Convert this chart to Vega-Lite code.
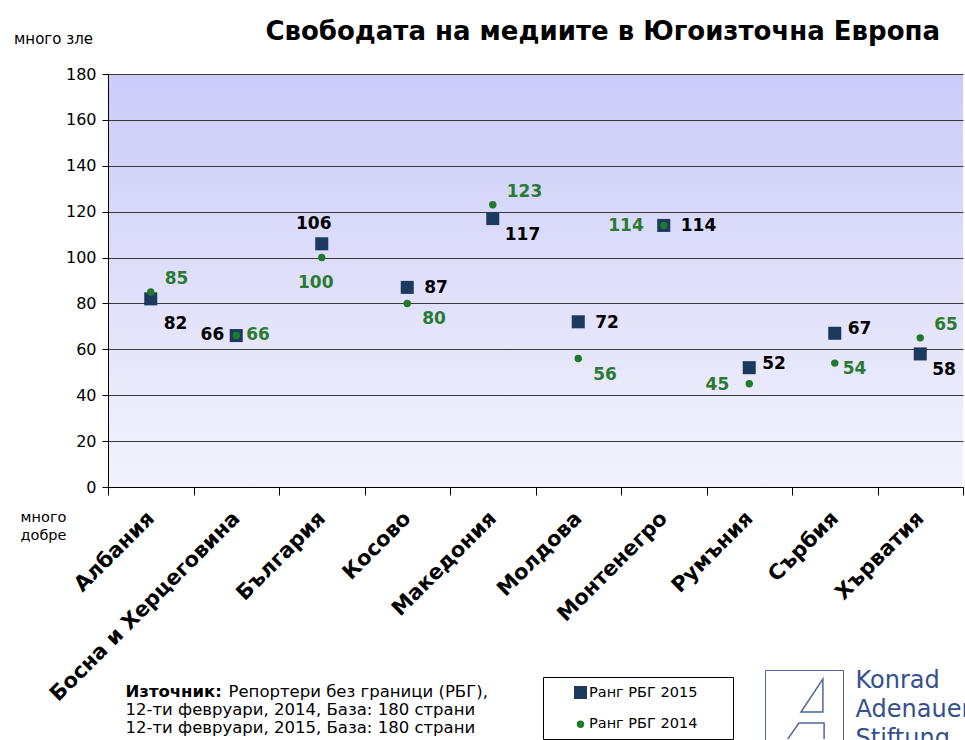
{
  "$schema": "https://vega.github.io/schema/vega-lite/v6.json",
  "width": 855,
  "height": 413,
  "autosize": {"type": "none"},
  "padding": {"left": 108, "top": 74, "right": 2, "bottom": 253},
  "background": "white",
  "title": {"text": "Свободата на медиите в Югоизточна Европа", "anchor": "end", "frame": "group", "dx": -23, "offset": -35, "baseline": "alphabetic", "fontSize": 26, "fontWeight": "bold", "font": "DejaVu Sans", "color": "#000"},
  "data": {"values": [
    {"country": "Албания", "series": "Ранг РБГ 2015", "rank": 82},
    {"country": "Босна и Херцеговина", "series": "Ранг РБГ 2015", "rank": 66},
    {"country": "България", "series": "Ранг РБГ 2015", "rank": 106},
    {"country": "Косово", "series": "Ранг РБГ 2015", "rank": 87},
    {"country": "Македония", "series": "Ранг РБГ 2015", "rank": 117},
    {"country": "Молдова", "series": "Ранг РБГ 2015", "rank": 72},
    {"country": "Монтенегро", "series": "Ранг РБГ 2015", "rank": 114},
    {"country": "Румъния", "series": "Ранг РБГ 2015", "rank": 52},
    {"country": "Сърбия", "series": "Ранг РБГ 2015", "rank": 67},
    {"country": "Хърватия", "series": "Ранг РБГ 2015", "rank": 58},
    {"country": "Албания", "series": "Ранг РБГ 2014", "rank": 85},
    {"country": "Босна и Херцеговина", "series": "Ранг РБГ 2014", "rank": 66},
    {"country": "България", "series": "Ранг РБГ 2014", "rank": 100},
    {"country": "Косово", "series": "Ранг РБГ 2014", "rank": 80},
    {"country": "Македония", "series": "Ранг РБГ 2014", "rank": 123},
    {"country": "Молдова", "series": "Ранг РБГ 2014", "rank": 56},
    {"country": "Монтенегро", "series": "Ранг РБГ 2014", "rank": 114},
    {"country": "Румъния", "series": "Ранг РБГ 2014", "rank": 45},
    {"country": "Сърбия", "series": "Ранг РБГ 2014", "rank": 54},
    {"country": "Хърватия", "series": "Ранг РБГ 2014", "rank": 65}
  ]},
  "layer": [
    {
      "mark": {"type": "point", "filled": true, "opacity": 1},
      "encoding": {
        "x": {"field": "country", "type": "nominal", "sort": null,
          "scale": {"type": "band", "paddingInner": 0, "paddingOuter": 0},
          "axis": {"title": ["много", "добре"], "titleX": -65, "titleY": 34, "titleAlign": "center", "titleBaseline": "alphabetic", "titleFontSize": 14.5, "titleFontWeight": "normal", "titleLineHeight": 18, "titleColor": "#000",
            "labelAngle": -45, "labelAlign": "right", "labelBaseline": "middle", "labelFontSize": 21, "labelFontWeight": "bold", "labelColor": "#000", "labelPadding": 20, "labelLimit": 400,
            "tickBand": "extent", "tickSize": 8, "tickColor": "#000", "domainColor": "#000", "grid": false}},
        "y": {"field": "rank", "type": "quantitative",
          "scale": {"domain": [0, 180], "nice": false, "zero": true},
          "axis": {"title": "много  зле", "titleAngle": 0, "titleX": -55, "titleY": -31, "titleAlign": "center", "titleBaseline": "alphabetic", "titleFontSize": 15, "titleFontWeight": "normal", "titleColor": "#000",
            "values": [0, 20, 40, 60, 80, 100, 120, 140, 160, 180], "labelFontSize": 16, "labelColor": "#000", "labelPadding": 6,
            "tickSize": 6, "tickColor": "#000", "domainColor": "#000", "grid": true, "gridColor": "#3a3a3a", "gridWidth": 1}},
        "color": {"field": "series", "type": "nominal",
          "scale": {"domain": ["Ранг РБГ 2015", "Ранг РБГ 2014"], "range": ["#1c3a5e", "#1f7a2a"]},
          "legend": {"title": "_", "titleOrient": "right", "titleColor": "#fff", "titleFontSize": 11, "titlePadding": 22, "orient": "none", "legendX": 435, "legendY": 603, "strokeColor": "#000", "fillColor": "#fff", "padding": 8, "symbolOffset": 22, "symbolSize": 55, "labelFontSize": 14.5, "labelOffset": 1, "rowPadding": 16,
            "encode": {"labels": {"update": {"fill": {"signal": "datum.value === 'Ранг РБГ 2015' ? '#1c3a5e' : '#1f7a2a'"}}}}}},
        "shape": {"field": "series", "type": "nominal",
          "scale": {"domain": ["Ранг РБГ 2015", "Ранг РБГ 2014"], "range": ["square", "circle"]},
          "legend": {"title": "_", "titleOrient": "right", "titleColor": "#fff", "titleFontSize": 11, "titlePadding": 22, "orient": "none", "legendX": 435, "legendY": 603, "strokeColor": "#000", "fillColor": "#fff", "padding": 8, "symbolOffset": 22, "symbolSize": 55, "labelFontSize": 14.5, "labelOffset": 1, "rowPadding": 16,
            "encode": {"labels": {"update": {"fill": {"signal": "datum.value === 'Ранг РБГ 2015' ? '#1c3a5e' : '#1f7a2a'"}}}}}},
        "size": {"field": "series", "type": "ordinal",
          "scale": {"domain": ["Ранг РБГ 2015", "Ранг РБГ 2014"], "range": [170, 55]}, "legend": null}
      }
    },
    {
      "transform": [{"filter": {"and": [{"field": "series", "equal": "Ранг РБГ 2015"}, {"field": "country", "oneOf": ["Косово", "Молдова", "Монтенегро"]}]}}],
      "mark": {"type": "text", "align": "left", "dx": 17, "dy": 1, "fontSize": 17, "fontWeight": "bold", "color": "#000"},
      "encoding": {"x": {"field": "country", "type": "nominal", "sort": null, "axis": null}, "y": {"field": "rank", "type": "quantitative", "axis": null}, "text": {"field": "rank"}}
    },
    {
      "transform": [{"filter": {"and": [{"field": "series", "equal": "Ранг РБГ 2015"}, {"field": "country", "oneOf": ["Румъния", "Сърбия"]}]}}],
      "mark": {"type": "text", "align": "left", "dx": 13, "dy": -4, "fontSize": 17, "fontWeight": "bold", "color": "#000"},
      "encoding": {"x": {"field": "country", "type": "nominal", "sort": null, "axis": null}, "y": {"field": "rank", "type": "quantitative", "axis": null}, "text": {"field": "rank"}}
    },
    {
      "transform": [{"filter": {"and": [{"field": "series", "equal": "Ранг РБГ 2015"}, {"field": "country", "oneOf": ["Албания"]}]}}],
      "mark": {"type": "text", "align": "left", "dx": 13, "dy": 25, "fontSize": 17, "fontWeight": "bold", "color": "#000"},
      "encoding": {"x": {"field": "country", "type": "nominal", "sort": null, "axis": null}, "y": {"field": "rank", "type": "quantitative", "axis": null}, "text": {"field": "rank"}}
    },
    {
      "transform": [{"filter": {"and": [{"field": "series", "equal": "Ранг РБГ 2015"}, {"field": "country", "oneOf": ["Македония", "Хърватия"]}]}}],
      "mark": {"type": "text", "align": "left", "dx": 12, "dy": 16, "fontSize": 17, "fontWeight": "bold", "color": "#000"},
      "encoding": {"x": {"field": "country", "type": "nominal", "sort": null, "axis": null}, "y": {"field": "rank", "type": "quantitative", "axis": null}, "text": {"field": "rank"}}
    },
    {
      "transform": [{"filter": {"and": [{"field": "series", "equal": "Ранг РБГ 2015"}, {"field": "country", "oneOf": ["Босна и Херцеговина"]}]}}],
      "mark": {"type": "text", "align": "right", "dx": -12, "dy": -1, "fontSize": 17, "fontWeight": "bold", "color": "#000"},
      "encoding": {"x": {"field": "country", "type": "nominal", "sort": null, "axis": null}, "y": {"field": "rank", "type": "quantitative", "axis": null}, "text": {"field": "rank"}}
    },
    {
      "transform": [{"filter": {"and": [{"field": "series", "equal": "Ранг РБГ 2015"}, {"field": "country", "oneOf": ["България"]}]}}],
      "mark": {"type": "text", "align": "center", "dx": -8, "dy": -20, "fontSize": 17, "fontWeight": "bold", "color": "#000"},
      "encoding": {"x": {"field": "country", "type": "nominal", "sort": null, "axis": null}, "y": {"field": "rank", "type": "quantitative", "axis": null}, "text": {"field": "rank"}}
    },
    {
      "transform": [{"filter": {"and": [{"field": "series", "equal": "Ранг РБГ 2014"}, {"field": "country", "oneOf": ["Албания", "Македония", "Хърватия"]}]}}],
      "mark": {"type": "text", "align": "left", "dx": 14, "dy": -13, "fontSize": 17, "fontWeight": "bold", "color": "#2a7a32"},
      "encoding": {"x": {"field": "country", "type": "nominal", "sort": null, "axis": null}, "y": {"field": "rank", "type": "quantitative", "axis": null}, "text": {"field": "rank"}}
    },
    {
      "transform": [{"filter": {"and": [{"field": "series", "equal": "Ранг РБГ 2014"}, {"field": "country", "oneOf": ["Босна и Херцеговина"]}]}}],
      "mark": {"type": "text", "align": "left", "dx": 10, "dy": -1, "fontSize": 17, "fontWeight": "bold", "color": "#2a7a32"},
      "encoding": {"x": {"field": "country", "type": "nominal", "sort": null, "axis": null}, "y": {"field": "rank", "type": "quantitative", "axis": null}, "text": {"field": "rank"}}
    },
    {
      "transform": [{"filter": {"and": [{"field": "series", "equal": "Ранг РБГ 2014"}, {"field": "country", "oneOf": ["Сърбия"]}]}}],
      "mark": {"type": "text", "align": "left", "dx": 8, "dy": 6, "fontSize": 17, "fontWeight": "bold", "color": "#2a7a32"},
      "encoding": {"x": {"field": "country", "type": "nominal", "sort": null, "axis": null}, "y": {"field": "rank", "type": "quantitative", "axis": null}, "text": {"field": "rank"}}
    },
    {
      "transform": [{"filter": {"and": [{"field": "series", "equal": "Ранг РБГ 2014"}, {"field": "country", "oneOf": ["Косово", "Молдова"]}]}}],
      "mark": {"type": "text", "align": "left", "dx": 15, "dy": 16, "fontSize": 17, "fontWeight": "bold", "color": "#2a7a32"},
      "encoding": {"x": {"field": "country", "type": "nominal", "sort": null, "axis": null}, "y": {"field": "rank", "type": "quantitative", "axis": null}, "text": {"field": "rank"}}
    },
    {
      "transform": [{"filter": {"and": [{"field": "series", "equal": "Ранг РБГ 2014"}, {"field": "country", "oneOf": ["Монтенегро", "Румъния"]}]}}],
      "mark": {"type": "text", "align": "right", "dx": -20, "dy": 1, "fontSize": 17, "fontWeight": "bold", "color": "#2a7a32"},
      "encoding": {"x": {"field": "country", "type": "nominal", "sort": null, "axis": null}, "y": {"field": "rank", "type": "quantitative", "axis": null}, "text": {"field": "rank"}}
    },
    {
      "transform": [{"filter": {"and": [{"field": "series", "equal": "Ранг РБГ 2014"}, {"field": "country", "oneOf": ["България"]}]}}],
      "mark": {"type": "text", "align": "center", "dx": -6, "dy": 25, "fontSize": 17, "fontWeight": "bold", "color": "#2a7a32"},
      "encoding": {"x": {"field": "country", "type": "nominal", "sort": null, "axis": null}, "y": {"field": "rank", "type": "quantitative", "axis": null}, "text": {"field": "rank"}}
    },
    {
      "mark": {"type": "point", "opacity": 0},
      "encoding": {
        "x": {"field": "country", "type": "nominal", "sort": null,
          "axis": {"orient": "top", "labels": false, "ticks": false, "domain": false, "grid": false, "title": "Източник:", "titleX": 17, "titleY": 622, "titleAlign": "left", "titleAnchor": "start", "titleBaseline": "alphabetic", "titleFontSize": 16.5, "titleFontWeight": "bold", "titleColor": "#000"}},
        "y": {"field": "rank", "type": "quantitative",
          "axis": {"orient": "right", "labels": false, "ticks": false, "domain": false, "grid": false, "title": "Репортери без граници (РБГ),", "titleAngle": 0, "titleX": -735, "titleY": 622, "titleAlign": "left", "titleAnchor": "start", "titleBaseline": "alphabetic", "titleFontSize": 16.5, "titleFontWeight": "normal", "titleColor": "#000"}}
      }
    },
    {
      "mark": {"type": "point", "opacity": 0},
      "encoding": {
        "x": {"field": "country", "type": "nominal", "sort": null,
          "axis": {"orient": "top", "labels": false, "ticks": false, "domain": false, "grid": false, "title": ["12-ти февруари, 2014, База: 180 страни", "12-ти февруари, 2015, База: 180 страни"], "titleX": 17, "titleY": 640, "titleAlign": "left", "titleAnchor": "start", "titleBaseline": "alphabetic", "titleFontSize": 16.5, "titleFontWeight": "normal", "titleLineHeight": 18, "titleColor": "#000"}},
        "y": {"field": "rank", "type": "quantitative",
          "axis": {"orient": "right", "labels": false, "ticks": false, "domain": false, "grid": false, "title": ["Konrad", "Adenauer", "Stiftung"], "titleAngle": 0, "titleX": -108, "titleY": 613, "titleAlign": "left", "titleAnchor": "start", "titleBaseline": "alphabetic", "titleFontSize": 24, "titleFontWeight": "normal", "titleLineHeight": 29, "titleColor": "#33508f"}},
        "strokeDash": {"datum": "KAS", "type": "nominal", "scale": {"range": [[1, 0]]},
          "legend": {"title": null, "orient": "none", "legendX": 657, "legendY": 596, "strokeColor": "#4f64a0", "fillColor": "#fff", "padding": 8, "symbolOffset": 0, "labelOffset": 0, "labelExpr": "''",
            "symbolType": "M0.63,-1L-0.1,0.1L0.63,0.1Z M-0.54,1L-0.17,0.47L0.67,0.47L0.67,1", "symbolSize": 3600, "symbolStrokeColor": "#4f64a0", "symbolFillColor": "transparent", "symbolStrokeWidth": 1.5}}
      }
    }
  ],
  "resolve": {"axis": {"x": "independent", "y": "independent"}},
  "config": {
    "font": "DejaVu Sans",
    "view": {"stroke": null, "fill": {"gradient": "linear", "x1": 0, "y1": 0, "x2": 0, "y2": 1, "stops": [{"offset": 0, "color": "#cbcbf8"}, {"offset": 1, "color": "#f3f3fd"}]}},
    "axis": {"labelFont": "DejaVu Sans", "titleFont": "DejaVu Sans"},
    "legend": {"labelFont": "DejaVu Sans", "titleFont": "DejaVu Sans"}
  }
}
